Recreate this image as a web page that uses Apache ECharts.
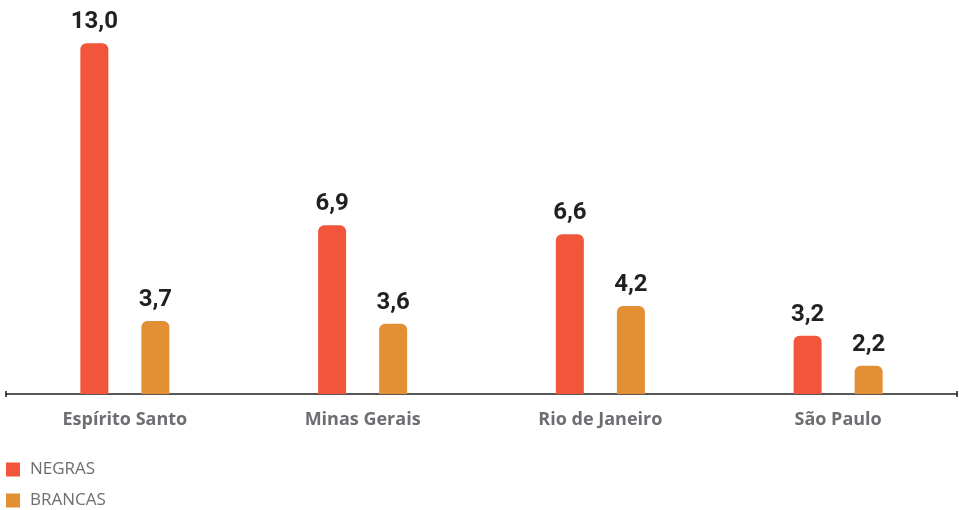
<!DOCTYPE html>
<html>
<head>
<meta charset="utf-8">
<script src="https://cdn.jsdelivr.net/npm/echarts@6/dist/echarts.min.js"></script>
<style>html,body{margin:0;padding:0;background:#fff;}#c{width:959px;height:510px;}</style>
</head>
<body>
<div id="c"></div>
<script>
const categories = ['Espírito Santo', 'Minas Gerais', 'Rio de Janeiro', 'São Paulo'];
const seriesNames = ['NEGRAS', 'BRANCAS'];
const negras = [13.0, 6.9, 6.6, 3.2];
const brancas = [3.7, 3.6, 4.2, 2.2];

const chart = echarts.init(document.getElementById('c'), null, {renderer: 'canvas'});
const labelCfg = {
  show: true,
  position: 'top',
  distance: 9,
  fontFamily: 'Roboto, sans-serif',
  fontWeight: 'bold',
  fontSize: 24,
  color: '#231f20',
  formatter: p => p.value.toFixed(1).replace('.', ',')
};
const legendBase = {
  left: 6,
  itemWidth: 14,
  itemHeight: 14,
  padding: 0,
  icon: 'rect',
  textStyle: {fontFamily: '"Open Sans", sans-serif', fontSize: 17, color: '#6d6e71', padding: [0, 0, 0, 5]}
};
chart.setOption({
  animation: false,
  grid: {left: 6, right: 2, top: 6, bottom: 116},
  legend: [
    Object.assign({}, legendBase, {top: 461, data: [seriesNames[0]]}),
    Object.assign({}, legendBase, {top: 492, data: [seriesNames[1]]})
  ],
  xAxis: {
    type: 'category',
    data: categories,
    axisLine: {
      lineStyle: {color: '#231f20', width: 1.5},
      symbol: ['rect', 'rect'],
      symbolSize: [6, 1.5]
    },
    axisTick: {show: false},
    axisLabel: {
      margin: 17,
      fontFamily: '"Open Sans", sans-serif',
      fontWeight: 'bold',
      fontSize: 18,
      color: '#6d6e71'
    }
  },
  yAxis: {
    type: 'value',
    min: 1.25,
    max: 14.25,
    show: false,
    splitLine: {show: false}
  },
  series: [
    {name: seriesNames[0], type: 'bar', data: negras, barWidth: 28, barGap: '118%',
     itemStyle: {color: '#f1563a', borderRadius: [6, 6, 0, 0]}, label: labelCfg},
    {name: seriesNames[1], type: 'bar', data: brancas, barWidth: 28, barGap: '118%',
     itemStyle: {color: '#e38f34', borderRadius: [6, 6, 0, 0]}, label: labelCfg}
  ]
});
</script>
</body>
</html>
